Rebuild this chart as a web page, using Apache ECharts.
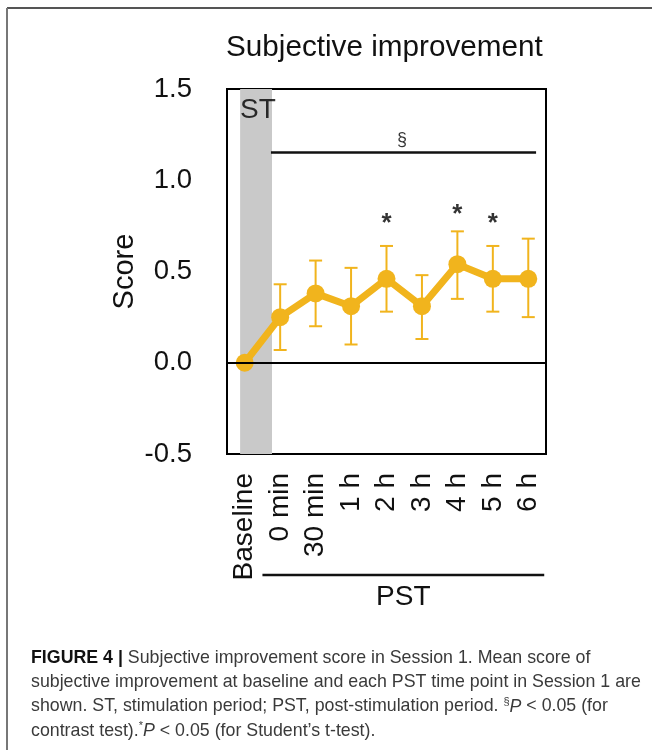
<!DOCTYPE html>
<html>
<head>
<meta charset="utf-8">
<script src="https://cdn.jsdelivr.net/npm/echarts@6/dist/echarts.min.js"></script>
<style>
html,body{margin:0;padding:0;background:#fff;}
#chart{width:652px;height:750px;}
</style>
</head>
<body>
<div id="chart"></div>
<script>
// ---- data ----
const categories = ['Baseline', '0 min', '30 min', '1 h', '2 h', '3 h', '4 h', '5 h', '6 h'];
const meanScore  = [0, 0.25, 0.38, 0.31, 0.46, 0.31, 0.54, 0.46, 0.46];
const errUpper   = [null, 0.43, 0.56, 0.52, 0.64, 0.48, 0.72, 0.64, 0.68];
const errLower   = [null, 0.07, 0.20, 0.10, 0.28, 0.13, 0.35, 0.28, 0.25];
const starCats   = ['2 h', '4 h', '5 h'];
const starY      = [0.80, 0.85, 0.80];
const yTicks     = [-0.5, 0, 0.5, 1.0, 1.5];
const stBand     = [-0.13, 0.77];          // ST shaded period (category index units)
const contrastLine = [0.74, 8.22, 1.155]; // x from, x to, y
const contrastMark = [4.44, 1.22];
const pstRange   = [0.5, 8.45];

const FONT = '"Liberation Sans", Arial, sans-serif';
const CAPFONT = '"Liberation Sans", Arial, sans-serif';
const GOLD = '#F1B41D';

const chart = echarts.init(document.getElementById('chart'), null, {renderer: 'canvas'});

const errData = categories.map((c, i) => [i, errLower[i], errUpper[i]]).filter(d => d[1] !== null);

const option = {
  backgroundColor: '#fff',
  animation: false,
  title: {
    text: 'Subjective improvement',
    left: 221, top: 28,
    textStyle: {fontFamily: FONT, fontSize: 29.7, fontWeight: 'normal', color: '#111'}
  },
  grid: {left: 227, right: 106, top: 89, bottom: 296, show: true, borderColor: '#000', borderWidth: 2, backgroundColor: 'transparent'},
  xAxis: [
    {
      type: 'category', data: categories, boundaryGap: true,
      axisLine: {show: false}, axisTick: {show: false}, splitLine: {show: false},
      axisLabel: {rotate: 90, margin: 19, fontFamily: FONT, fontSize: 28, color: '#111', interval: 0}
    },
    {type: 'value', min: -0.5, max: 8.5, show: false}
  ],
  yAxis: {
    type: 'value', min: yTicks[0], max: yTicks[yTicks.length - 1], interval: 0.5,
    axisLine: {show: false}, axisTick: {show: false}, splitLine: {show: false},
    axisLabel: {margin: 35, fontFamily: FONT, fontSize: 27.5, color: '#111', formatter: v => v.toFixed(1)},
    name: 'Score', nameLocation: 'middle', nameRotate: 90, nameGap: 88,
    nameTextStyle: {fontFamily: FONT, fontSize: 29, color: '#111', padding: [0, 0, 0, 0]}
  },
  series: [
    {
      // shaded stimulation period + contrast-test line
      type: 'line', xAxisIndex: 1, data: [], silent: true,
      markArea: {
        silent: true,
        itemStyle: {color: '#c9c9c9'},
        data: [[{xAxis: stBand[0]}, {xAxis: stBand[1]}]]
      },
      markLine: {
        silent: true, symbol: 'none', label: {show: false},
        lineStyle: {color: '#111', width: 2.5, type: 'solid'},
        data: [[{coord: [contrastLine[0], contrastLine[2]]}, {coord: [contrastLine[1], contrastLine[2]]}]]
      },
      z: 1
    },
    {
      // zero line
      type: 'line', data: [], silent: true,
      markLine: {
        silent: true, symbol: 'none', label: {show: false},
        lineStyle: {color: '#000', width: 2, type: 'solid'},
        data: [{yAxis: 0}]
      },
      z: 2
    },
    {
      type: 'custom', z: 3,
      data: errData,
      renderItem: function (params, api) {
        const x = api.value(0);
        const lo = api.coord([x, api.value(1)]);
        const hi = api.coord([x, api.value(2)]);
        const w = 6.5;
        const st = {stroke: GOLD, lineWidth: 2};
        return {
          type: 'group',
          children: [
            {type: 'line', shape: {x1: lo[0], y1: lo[1], x2: hi[0], y2: hi[1]}, style: st},
            {type: 'line', shape: {x1: hi[0] - w, y1: hi[1], x2: hi[0] + w, y2: hi[1]}, style: st},
            {type: 'line', shape: {x1: lo[0] - w, y1: lo[1], x2: lo[0] + w, y2: lo[1]}, style: st}
          ]
        };
      }
    },
    {
      type: 'line', z: 4,
      data: meanScore,
      symbol: 'circle', symbolSize: 18,
      lineStyle: {color: GOLD, width: 7},
      itemStyle: {color: GOLD}
    },
    {
      // asterisks
      type: 'scatter', z: 5, symbolSize: 0,
      data: starCats.map((c, i) => [c, starY[i]]),
      label: {show: true, formatter: '*', position: 'inside', fontFamily: FONT, fontSize: 26, fontWeight: 'bold', color: '#000', offset: [0, 7]}
    },
    {
      // ST and § labels
      type: 'scatter', xAxisIndex: 1, z: 5, symbolSize: 0,
      data: [
        {value: [stBand[0], 1.5], label: {formatter: 'ST', position: 'right', align: 'left', verticalAlign: 'top', fontSize: 28, offset: [-5, 7]}},
        {value: contrastMark, label: {formatter: '§', position: 'inside', fontSize: 18}}
      ],
      label: {show: true, fontFamily: FONT, color: '#000'}
    }
  ],
  graphic: []
};

chart.setOption(option);

// PST bracket below the axis labels, placed via axis scale
const px0 = chart.convertToPixel({xAxisIndex: 1}, pstRange[0]);
const px1 = chart.convertToPixel({xAxisIndex: 1}, pstRange[1]);

const CAPSIZE = 17.8;
const capStyle = {fontFamily: CAPFONT, fontSize: CAPSIZE, fill: '#3a3a3a'};
const capRich = {
  b: {fontFamily: CAPFONT, fontSize: CAPSIZE, fontWeight: 'bold', fill: '#111'},
  sup: {fontFamily: CAPFONT, fontSize: 11, fill: '#3a3a3a', verticalAlign: 'top'},
  i: {fontFamily: CAPFONT, fontSize: CAPSIZE, fontStyle: 'italic', fill: '#3a3a3a'}
};
const captionLines = [
  '{b|FIGURE 4 |} Subjective improvement score in Session 1. Mean score of',
  'subjective improvement at baseline and each PST time point in Session 1 are',
  'shown. ST, stimulation period; PST, post-stimulation period. {sup|§}{i|P} < 0.05 (for',
  'contrast test).{sup|*}{i|P} < 0.05 (for Student’s t-test).'
];

const graphics = [
  {type: 'line', shape: {x1: 7, y1: 8, x2: 652, y2: 8}, style: {stroke: '#555', lineWidth: 2}},
  {type: 'line', shape: {x1: 7, y1: 8, x2: 7, y2: 750}, style: {stroke: '#777', lineWidth: 2}},
  {type: 'line', shape: {x1: px0, y1: 575, x2: px1, y2: 575}, style: {stroke: '#111', lineWidth: 2.5}},
  {type: 'text', x: (px0 + px1) / 2, y: 597, style: {text: 'PST', fontFamily: FONT, fontSize: 28, fill: '#111', align: 'center', verticalAlign: 'middle'}}
];
captionLines.forEach((t, i) => {
  graphics.push({
    type: 'text', left: 31, top: 648 + i * 24.3,
    style: Object.assign({text: t, rich: capRich, textVerticalAlign: 'top', lineHeight: 20}, capStyle)
  });
});
chart.setOption({graphic: graphics});
</script>
</body>
</html>
